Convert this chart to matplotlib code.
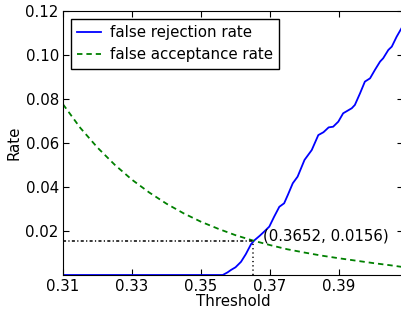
import matplotlib
matplotlib.use("Agg")
import matplotlib.pyplot as plt

far_t = [0.310, 0.315, 0.320, 0.325, 0.330, 0.335, 0.340, 0.345, 0.350, 0.355,
         0.360, 0.3652, 0.370, 0.375, 0.380, 0.385, 0.390, 0.395, 0.400, 0.405, 0.4086]
far_v = [0.0776, 0.0669, 0.0579, 0.0501, 0.0433, 0.0375, 0.0324, 0.0280, 0.0242, 0.0210,
         0.0181, 0.0156, 0.0136, 0.0117, 0.0102, 0.0088, 0.0076, 0.0065, 0.0054, 0.0044, 0.0036]

frr_t = [0.3100, 0.3300, 0.3500, 0.3563, 0.3577, 0.3587, 0.3600, 0.3616, 0.3630, 0.3645,
         0.3655, 0.3670, 0.3683, 0.3698, 0.3712, 0.3727, 0.3741, 0.3752, 0.3766, 0.3780,
         0.3800, 0.3821, 0.3840, 0.3855, 0.3870, 0.3883, 0.3898, 0.3912, 0.3937, 0.3946,
         0.3961, 0.3975, 0.3990, 0.4004, 0.4019, 0.4028, 0.4043, 0.4053, 0.4067, 0.4086]
frr_v = [0.0000, 0.0000, 0.0000, 0.0000, 0.0012, 0.0023, 0.0035, 0.0060, 0.0095, 0.0140,
         0.0158, 0.0178, 0.0197, 0.0220, 0.0265, 0.0310, 0.0326, 0.0365, 0.0417, 0.0447,
         0.0523, 0.0568, 0.0636, 0.0649, 0.0671, 0.0674, 0.0697, 0.0735, 0.0758, 0.0773,
         0.0826, 0.0879, 0.0894, 0.0932, 0.0970, 0.0985, 0.1023, 0.1038, 0.1083, 0.1135]

eer_t = 0.3652
eer_v = 0.0156

xticks = [0.31, 0.33, 0.35, 0.37, 0.39]
yticks = [0.02, 0.04, 0.06, 0.08, 0.10, 0.12]

fs = 10.8

fig = plt.figure(figsize=(4.02, 3.18), dpi=100)
ax = fig.add_axes([63/402, 43/318, 340/402, 264/318])

ax.plot(frr_t, frr_v, color='blue', lw=1.3, label='false rejection rate')
ax.plot(far_t, far_v, color='green', lw=1.3, dashes=(3.0, 2.2), label='false acceptance rate')
ax.plot([0.31, eer_t], [eer_v, eer_v], color='black', lw=1.1, dashes=(2, 1.5, 0.8, 1.5))
ax.plot([eer_t, eer_t], [0, eer_v], color='black', lw=1.1, dashes=(0.8, 2))
ax.text(eer_t + 0.0028, eer_v, '(%.4f, %.4f)' % (eer_t, eer_v), fontsize=fs)

ax.set_xlim(0.31, 0.40855)
ax.set_ylim(0, 0.12)
ax.set_xticks(xticks)
ax.set_xticklabels(['%.2f' % v for v in xticks])
ax.set_yticks(yticks)
ax.set_yticklabels(['%.2f' % v for v in yticks])
ax.tick_params(direction='in', top=True, right=True, length=4, labelsize=fs, pad=3)
ax.set_xlabel('Threshold', fontsize=fs, labelpad=0)
ax.set_ylabel('Rate', fontsize=fs, labelpad=3)

leg = ax.legend(loc='upper left', fontsize=fs, fancybox=False, framealpha=1,
                edgecolor='black', handlelength=1.6, handletextpad=0.55, borderpad=0.45,
                labelspacing=0.45, borderaxespad=0.5)
leg.get_frame().set_linewidth(1.0)

fig.savefig('out.png', dpi=100)
